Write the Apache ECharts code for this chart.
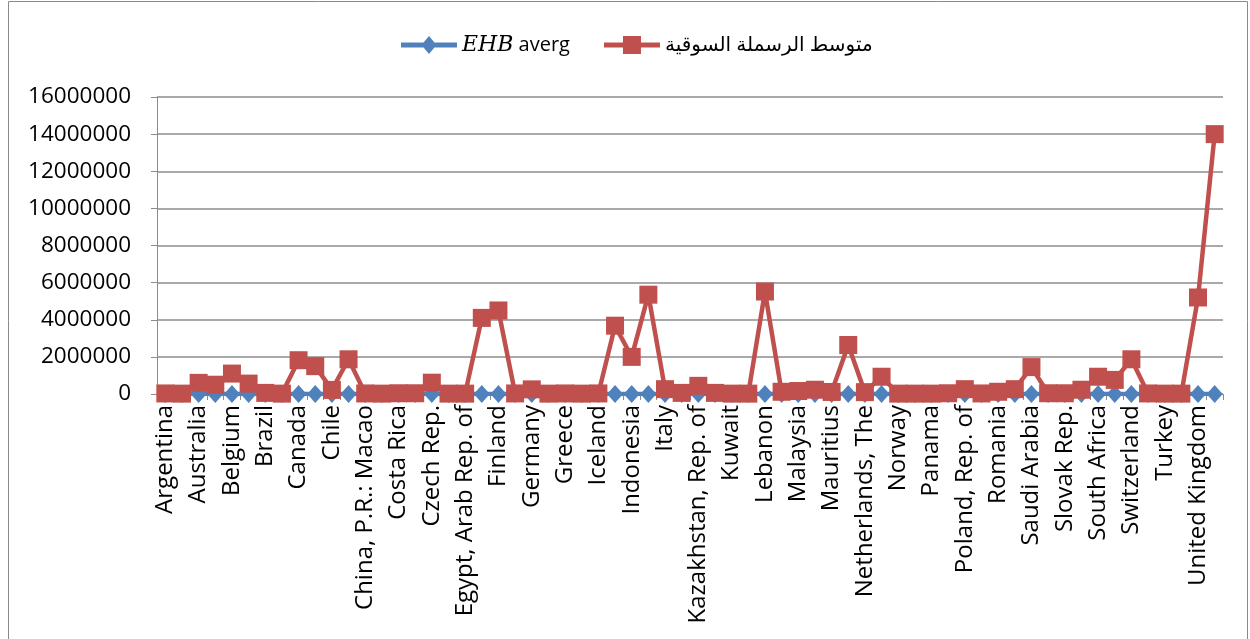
<!DOCTYPE html>
<html>
<head>
<meta charset="utf-8">
<script src="https://cdn.jsdelivr.net/npm/echarts@6/dist/echarts.min.js"></script>
<style>
  html, body { margin: 0; padding: 0; background: #fff; }
  #chart { width: 1250px; height: 639px; }
</style>
</head>
<body>
<div id="chart"></div>
<script>
// Countries on the category axis (every other one is labelled)
const countries = [
  'Argentina', 'Armenia', 'Australia', 'Austria', 'Belgium', 'Bolivia', 'Brazil', 'Bulgaria',
  'Canada', 'Cayman Islands', 'Chile', 'China, P.R.: Hong Kong', 'China, P.R.: Macao', 'Colombia',
  'Costa Rica', 'Croatia', 'Czech Rep.', 'Denmark', 'Egypt, Arab Rep. of', 'Estonia', 'Finland',
  'France', 'Germany', 'Ghana', 'Greece', 'Hungary', 'Iceland', 'India', 'Indonesia', 'Israel',
  'Italy', 'Japan', 'Kazakhstan, Rep. of', 'Korea, Rep. of', 'Kuwait', 'Latvia', 'Lebanon',
  'Lithuania', 'Malaysia', 'Malta', 'Mauritius', 'Mexico', 'Netherlands, The', 'New Zealand',
  'Norway', 'Pakistan', 'Panama', 'Peru', 'Poland, Rep. of', 'Portugal', 'Romania',
  'Russian Federation', 'Saudi Arabia', 'Singapore', 'Slovak Rep.', 'Slovenia', 'South Africa',
  'Spain', 'Switzerland', 'Thailand', 'Turkey', 'Ukraine', 'United Kingdom', 'United States'
];

// EHB average per country
const ehbAverage = [
  0, 0, 0, 0, 0, 0, 0, 0, 0, 0, 0, 0, 0, 0, 0, 0,
  0, 0, 0, 0, 0, 0, 0, 0, 0, 0, 0, 0, 0, 0, 0, 0,
  0, 0, 0, 0, 0, 0, 0, 0, 0, 0, 0, 0, 0, 0, 0, 0,
  0, 0, 0, 0, 0, 0, 0, 0, 0, 0, 0, 0, 0, 0, 0, 0
];

// Average market capitalisation per country
const marketCapAverage = [
  30000, 20000, 600000, 500000, 1100000, 560000, 60000, 20000,
  1820000, 1500000, 220000, 1870000, 30000, 20000, 40000, 40000,
  610000, 20000, 20000, 4100000, 4500000, 30000, 250000, 20000,
  30000, 20000, 30000, 3680000, 2000000, 5350000, 260000, 60000,
  440000, 60000, 20000, 20000, 5520000, 120000, 160000, 230000,
  110000, 2640000, 100000, 930000, 20000, 20000, 20000, 40000,
  260000, 30000, 120000, 260000, 1450000, 40000, 40000, 230000,
  930000, 760000, 1870000, 30000, 20000, 20000, 5200000, 14000000
];

// Value axis ticks
const yTicks = [0, 2000000, 4000000, 6000000, 8000000, 10000000, 12000000, 14000000, 16000000];

const ehbName = 'EHB averg';
const capName = 'متوسط الرسملة السوقية';

const BLUE = '#4F81BD';
const RED = '#C0504D';
const GRID = '#8c8c8c';
const FONT = '"Open Sans", "DejaVu Sans", sans-serif';

// Legend keys: a thick line segment with the series marker in the middle (56 x 18 box)
const ICON_DIAMOND = 'path://M0,6.5H56V11.5H0Z M28,0L35.5,9L28,18L20.5,9Z';
const ICON_SQUARE = 'path://M0,6.5H56V11.5H0Z M19,0H37V18H19Z';

const chart = echarts.init(document.getElementById('chart'), null, { renderer: 'canvas' });

chart.setOption({
  backgroundColor: '#ffffff',
  animation: false,
  textStyle: { fontFamily: FONT, color: '#000' },
  graphic: [{
    type: 'rect',
    silent: true,
    shape: { x: 8.5, y: 1.5, width: 1239, height: 680 },
    style: { fill: 'none', stroke: '#8a8a8a', lineWidth: 1 }
  }],
  legend: {
    left: 396,
    top: 29,
    itemWidth: 56,
    itemHeight: 18,
    itemGap: 34,
    data: [
      { name: ehbName, icon: ICON_DIAMOND },
      { name: capName, icon: ICON_SQUARE }
    ],
    textStyle: {
      fontFamily: FONT,
      fontSize: 20,
      color: '#000',
      rich: {
        i: { fontFamily: '"DejaVu Serif", "Liberation Serif", serif', fontStyle: 'italic', fontSize: 22, color: '#000' }
      }
    },
    formatter: function (name) {
      return name === ehbName ? '{i|EHB} averg' : name;
    }
  },
  grid: { left: 157, right: 27, top: 97, bottom: 245, containLabel: false },
  xAxis: {
    type: 'category',
    data: countries,
    boundaryGap: true,
    axisLine: { show: true, lineStyle: { color: GRID, width: 1 } },
    axisTick: { show: true, interval: 0, length: 6, lineStyle: { color: GRID } },
    axisLabel: {
      interval: 1,
      rotate: 90,
      margin: 11,
      fontFamily: FONT,
      fontSize: 24,
      color: '#000'
    },
    splitLine: { show: false }
  },
  yAxis: {
    type: 'value',
    min: yTicks[0],
    max: yTicks[yTicks.length - 1],
    interval: yTicks[1] - yTicks[0],
    axisLine: { show: true, lineStyle: { color: GRID, width: 1 } },
    axisTick: { show: true, length: 6, lineStyle: { color: GRID } },
    axisLabel: {
      margin: 26,
      fontFamily: FONT,
      fontSize: 22.5,
      color: '#000',
      formatter: function (v) { return String(v); }
    },
    splitLine: { show: true, lineStyle: { color: GRID, width: 1.5 } }
  },
  series: [
    {
      name: ehbName,
      type: 'line',
      data: ehbAverage,
      symbol: 'diamond',
      symbolSize: [16, 18],
      showAllSymbol: true,
      itemStyle: { color: BLUE },
      lineStyle: { color: BLUE, width: 4.5 },
      z: 2
    },
    {
      name: capName,
      type: 'line',
      data: marketCapAverage,
      symbol: 'rect',
      symbolSize: 18,
      showAllSymbol: true,
      itemStyle: { color: RED },
      lineStyle: { color: RED, width: 4.5 },
      z: 3
    }
  ]
});
</script>
</body>
</html>
